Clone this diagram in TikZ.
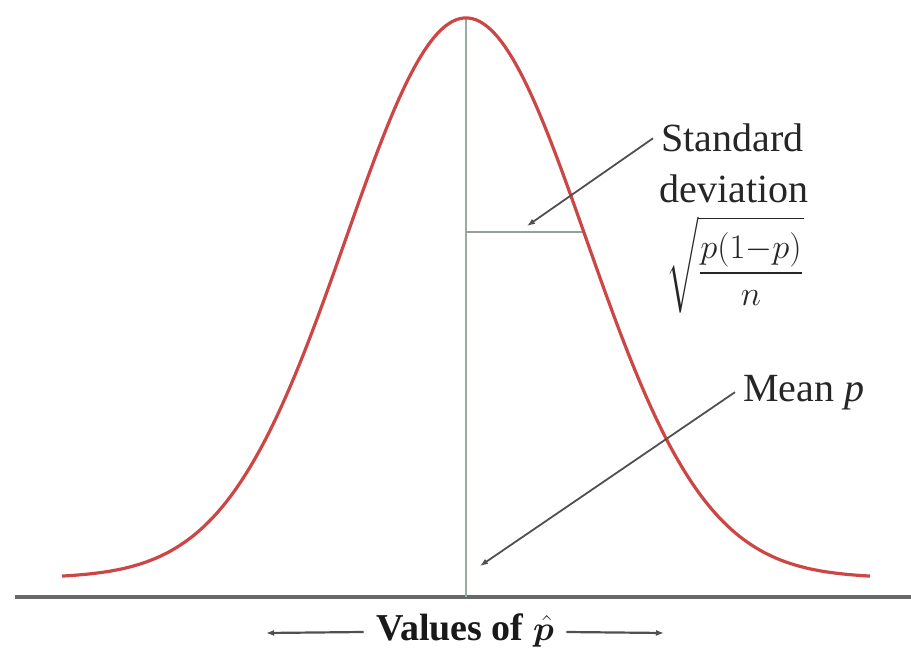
\documentclass[tikz,border=0pt]{standalone}
\usepackage{fontspec}
\usepackage{amsmath,amssymb,bm}
\setmainfont{Liberation Serif}
\usetikzlibrary{arrows.meta}
\definecolor{curvered}{RGB}{205,70,70}
\definecolor{meangreen}{RGB}{150,175,160}
\definecolor{axisgray}{RGB}{105,105,105}
\definecolor{sdgray}{RGB}{150,160,155}
\definecolor{ptrgray}{RGB}{80,80,80}
\tikzset{
  curve/.style={draw=curvered, line width=1.6pt},
  meanline/.style={draw=meangreen, line width=1.1pt},
  sdline/.style={draw=sdgray, line width=1.1pt},
  axisline/.style={draw=axisgray, line width=1.6pt},
  ptr/.style={draw=ptrgray, line width=0.9pt, -{Latex[length=4pt,width=3pt]}},
  lbl/.style={inner sep=0pt, font=\fontsize{20pt}{24pt}\selectfont, text=black!85},
  vlbl/.style={inner sep=0pt, font=\fontsize{19pt}{22pt}\selectfont\bfseries, text=black!90}
}
\begin{document}
\begin{tikzpicture}[x=0.5pt,y=-0.5pt]
\useasboundingbox (0,0) rectangle (911,663);
% axis
\coordinate (axl) at (15,597);
\coordinate (axr) at (911,597);
\draw[axisline] (axl) -- (axr);
% mean line
\coordinate (top) at (466,18);
\coordinate (bot) at (466,597);
\draw[meanline] (top) -- (bot);
% standard deviation line
\coordinate (sdl) at (466,232);
\coordinate (sdr) at (584,232);
\draw[sdline] (sdl) -- (sdr);
% normal curve
\draw[curve] plot[domain=62:870,samples=200,smooth] (\x,{578-560*exp(-0.5*((\x-466)/120)^2)});
% labels
\node[lbl, anchor=base west] (std) at (661,152) {Standard};
\node[lbl, anchor=base west] (dev) at (659,203) {deviation};
\node[inner sep=0pt, font=\fontsize{16pt}{19pt}\selectfont, text=black!85] (sd) at (735,265) {$\displaystyle\sqrt{\frac{p(1{-}p)}{n}}$};
\node[lbl, anchor=base west] (mean) at (743,401) {Mean \textit{p}};
\node[vlbl] (val) at (465,630) {Values of $\hat{\bm p}$};
% pointers
\coordinate (sdend) at (527,226);
\coordinate (meanend) at (480,566);
\draw[ptr] ([xshift=-4pt]std.west) -- (sdend);
\draw[ptr] ([xshift=-4pt]mean.west) -- (meanend);
\coordinate (lft) at (266,633);
\coordinate (rgt) at (664,633);
\draw[ptr, line width=1.1pt] ([xshift=-6pt,yshift=-1pt]val.west) -- (lft);
\draw[ptr, line width=1.1pt] ([xshift=6pt,yshift=-1pt]val.east) -- (rgt);
\end{tikzpicture}
\end{document}
